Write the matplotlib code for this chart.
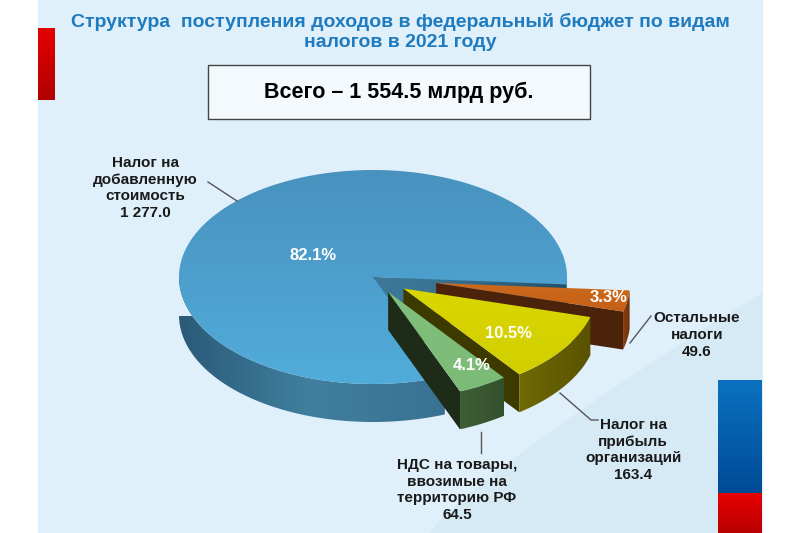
import numpy as np
import matplotlib.pyplot as plt
from matplotlib.patches import Polygon, Rectangle
from matplotlib.colors import LinearSegmentedColormap

# data (counter-clockwise order, starting at the big slice)
labels = ['Налог на\nдобавленную\nстоимость', 'НДС на товары,\nввозимые на\nтерриторию РФ',
          'Налог на\nприбыль\nорганизаций', 'Остальные\nналоги']
values = [1277.0, 64.5, 163.4, 49.6]
pct_labels = [82.1, 4.1, 10.5, 3.3]
total = 1554.5

title = 'Структура  поступления доходов в федеральный бюджет по видам\nналогов в 2021 году'
total_text = 'Всего – 1 554.5 млрд руб.'

# styling of the fake 3D pie
top_colors = [('#4892bf', '#52acda'), ('#80c07c', '#7bbb77'), ('#d9d600', '#d2cf00'), ('#cc6a1c', '#c55f16')]
side_colors = [('#2a5a78', '#417f9f', '#3a7292', '#25506a'), ('#3f5f37', '#33502c'),
               ('#6f6a05', '#5a5200'), ('#8a3f10', '#6e300b')]
radial_colors = ['#2c5a74', '#1d2b18', '#3d3a00', '#4a230a']
explode = [0, 0.16, 0.19, 0.33]
cx, cy, ra, rb, depth = 373, 277, 194, 107, 38
start = -4.0

plt.rcParams['font.family'] = ['Liberation Sans', 'DejaVu Sans']

fig = plt.figure(figsize=(8, 5.33), dpi=100)
ax = fig.add_axes([0, 0, 1, 1])
ax.set_xlim(0, 800)
ax.set_ylim(533, 0)
ax.axis('off')

# slide background
ax.add_patch(Rectangle((38, 0), 724, 533, color='#dff0fa', zorder=0))
t = np.linspace(0, 1, 60)
bx = 430 + 332 * t
by = 533 - 240 * t ** 0.85
band = np.column_stack([np.r_[bx, 762], np.r_[by, 533]])
ax.add_patch(Polygon(band, closed=True, color='#cfe6f4', alpha=0.55, lw=0, zorder=0.5))


def grad_fill(poly, colors, horizontal=True, z=1):
    patch = Polygon(poly, closed=True, facecolor='none', edgecolor='none', zorder=z)
    ax.add_patch(patch)
    cmap = LinearSegmentedColormap.from_list('g', list(colors))
    x0, y0 = poly.min(axis=0)
    x1, y1 = poly.max(axis=0)
    g = np.linspace(0, 1, 256)
    img = g[None, :] if horizontal else g[:, None]
    im = ax.imshow(img, cmap=cmap, extent=(x0, x1, y1, y0), aspect='auto',
                   interpolation='bilinear', zorder=z)
    im.set_clip_path(patch)


def pt(theta, dx, dy, down=0):
    th = np.radians(theta)
    return np.column_stack([cx + dx + ra * np.cos(th), cy + dy - rb * np.sin(th) + down])


angles = np.cumsum([0] + [v / total * 360 for v in values]) + start
mids = (angles[:-1] + angles[1:]) / 2
# paint back slices first
order = np.argsort(-np.sin(np.radians(mids)))
z = 1
for i in order:
    a0, a1 = angles[i], angles[i + 1]
    mid = np.radians(mids[i])
    dx = explode[i] * ra * np.cos(mid)
    dy = -explode[i] * rb * np.sin(mid)
    tip = np.array([cx + dx, cy + dy])
    # radial faces that face the viewer
    for ang, nrm in ((a0, a0 - 90), (a1, a1 + 90)):
        if np.sin(np.radians(nrm)) < 0:
            p = pt(ang, dx, dy)[0]
            quad = np.array([tip, p, p + [0, depth], tip + [0, depth]])
            ax.add_patch(Polygon(quad, closed=True, color=radial_colors[i], lw=0, zorder=z))
    # outer side, only the front half
    th = np.linspace(a0, a1, 400)
    th = th[np.sin(np.radians(th)) <= 0.001]
    if len(th) > 1:
        upper = pt(th, dx, dy)
        lower = pt(th[::-1], dx, dy, depth)
        grad_fill(np.vstack([upper, lower]), side_colors[i], True, z + 0.1)
    # top face
    th = np.linspace(a0, a1, 300)
    top = np.vstack([tip, pt(th, dx, dy)])
    grad_fill(top, top_colors[i], False, z + 0.2)
    z += 1

# percentages on the slices
pct_pos = [(313, 256), (472, 366), (508, 333), (609, 298)]
for (x, y), p in zip(pct_pos, pct_labels):
    ax.text(x, y, f'{p:.1f}%', color='white', fontsize=12, fontweight='bold',
            ha='center', va='center', zorder=20)


def fmt(v):
    return f'{v:,.1f}'.replace(',', ' ')


# category labels with leader lines
lab_pos = [(145, 188), (457, 490), (633, 450), (697, 335)]
leaders = [[(208, 182), (237, 201)], [(481, 432), (481, 453)],
           [(560, 393), (591, 420), (598, 420)], [(651, 316), (630, 343)]]
for i in range(len(values)):
    x, y = lab_pos[i]
    ax.text(x, y, labels[i] + '\n' + fmt(values[i]), fontsize=11, fontweight='bold',
            ha='center', va='center', linespacing=1.25, color='#1a1a1a', zorder=20)
    lx, ly = zip(*leaders[i])
    ax.plot(lx, ly, color='#555555', lw=1, zorder=19)

# title and total box
ax.text(400, 32, title, color='#1f7bc0', fontsize=14, fontweight='bold',
        ha='center', va='center', linespacing=1.2, zorder=20)
ax.add_patch(Rectangle((208, 65), 382, 54, facecolor='#f3f9fd', edgecolor='#444444', lw=1, zorder=15))
ax.text(399, 92, total_text, fontsize=15.5, fontweight='bold', ha='center', va='center', zorder=20)

# decorative bars
grad_fill(np.array([[38, 28], [55, 28], [55, 100], [38, 100]]), ('#e50000', '#b00000'), False, 5)
grad_fill(np.array([[718, 380], [762, 380], [762, 493], [718, 493]]), ('#0a72c0', '#004a96'), False, 5)
grad_fill(np.array([[718, 493], [762, 493], [762, 533], [718, 533]]), ('#e80000', '#b80000'), False, 5)

fig.savefig('out.png', dpi=100)
